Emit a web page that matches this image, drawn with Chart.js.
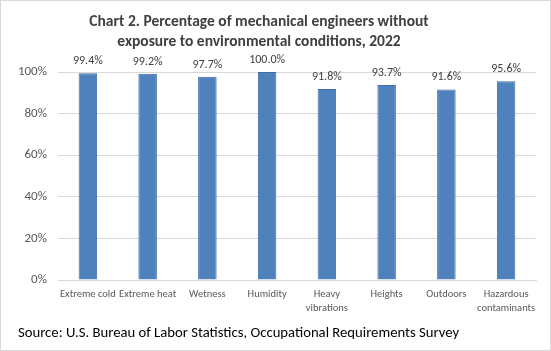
<!DOCTYPE html>
<html>
<head>
<meta charset="utf-8">
<script src="https://cdn.jsdelivr.net/npm/chart.js@4"></script>
<style>
  html, body { margin: 0; padding: 0; background: #fff; }
  #wrap { position: relative; width: 549px; height: 349px; border: 1px solid #d9d9d9; }
</style>
</head>
<body>
<div id="wrap"><canvas id="chart"></canvas></div>
<script>
// Categories and values
const categories = [
    'Extreme cold', 'Extreme heat', 'Wetness', 'Humidity',
    ['Heavy', 'vibrations'], 'Heights', 'Outdoors', ['Hazardous', 'contaminants']
];
const percentWithout = [99.4, 99.2, 97.7, 100.0, 91.8, 93.7, 91.6, 95.6];
const yTicks = [0, 20, 40, 60, 80, 100];
const titleLines = ['Chart 2. Percentage of mechanical engineers without', 'exposure to environmental conditions, 2022'];

const fontFamily = "Carlito, 'Open Sans', 'Liberation Sans', sans-serif";

// title is drawn by hand: in the original it sits a bit left of centre
const chartTitle = {
    id: 'chartTitle',
    afterDraw(chart) {
        const ctx = chart.ctx;
        ctx.save();
        ctx.font = 'bold 15.5px ' + fontFamily;
        ctx.fillStyle = '#404040';
        ctx.textAlign = 'center';
        ctx.textBaseline = 'middle';
        titleLines.forEach(function (line, i) {
            ctx.fillText(line, 258, 21 + i * 20.5);
        });
        ctx.restore();
    }
};

// draw the value labels on top of each bar
const barLabels = {
    id: 'barLabels',
    afterDatasetsDraw(chart) {
        const ctx = chart.ctx;
        const meta = chart.getDatasetMeta(0);
        ctx.save();
        ctx.font = '12px ' + fontFamily;
        ctx.fillStyle = '#404040';
        ctx.textAlign = 'center';
        ctx.textBaseline = 'bottom';
        meta.data.forEach(function (bar, i) {
            ctx.fillText(percentWithout[i].toFixed(1) + '%', bar.x, bar.y - 6);
        });
        ctx.restore();
    }
};

const ctx = document.getElementById('chart');
new Chart(ctx, {
    type: 'bar',
    data: {
        labels: categories,
        datasets: [{
            data: percentWithout,
            backgroundColor: '#4f81bd',
            borderColor: '#3d6ea8',
            borderWidth: 1,
            categoryPercentage: 1.0,
            barPercentage: 0.31
        }]
    },
    options: {
        responsive: true,
        maintainAspectRatio: false,
        animation: false,
        layout: { padding: { left: 17, right: 14, top: 71, bottom: 0 } },
        plugins: {
            legend: { display: false },
            tooltip: { enabled: false },
            title: { display: false },
            subtitle: {
                display: true,
                position: 'bottom',
                align: 'start',
                text: 'Source: U.S. Bureau of Labor Statistics, Occupational Requirements Survey',
                color: '#000',
                font: { family: fontFamily, size: 14.7 },
                padding: { top: 2, bottom: 8 }
            }
        },
        scales: {
            y: {
                min: 0,
                max: 100,
                afterBuildTicks(axis) {
                    axis.ticks = yTicks.map(v => ({ value: v }));
                },
                afterFit(axis) {
                    axis.width = 40;
                    axis.paddingTop = 0;
                    axis.paddingBottom = 0;
                },
                ticks: {
                    color: '#595959',
                    font: { family: fontFamily, size: 13 },
                    padding: 11,
                    callback: v => v + '%'
                },
                grid: { color: '#d9d9d9', drawTicks: false },
                border: { display: false }
            },
            x: {
                afterFit(axis) {
                    axis.paddingLeft = 0;
                    axis.paddingRight = 0;
                },
                ticks: {
                    color: '#595959',
                    font: { family: fontFamily, size: 10.5, lineHeight: 1.35 },
                    maxRotation: 0,
                    autoSkip: false,
                    padding: 7
                },
                grid: { display: false, drawTicks: false },
                border: { color: '#d9d9d9' }
            }
        }
    },
    plugins: [barLabels, chartTitle]
});
</script>
</body>
</html>
